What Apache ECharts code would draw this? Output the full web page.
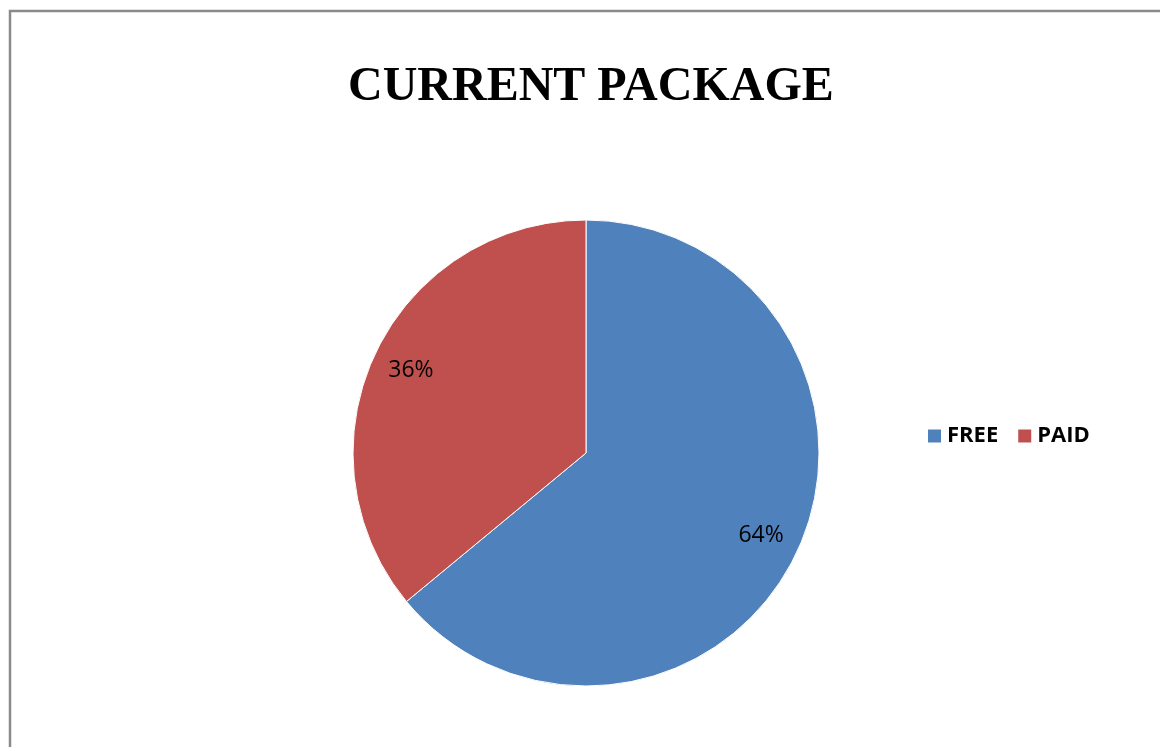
<!DOCTYPE html>
<html>
<head>
<meta charset="utf-8">
<script src="https://cdn.jsdelivr.net/npm/echarts@6/dist/echarts.min.js"></script>
<style>
  html, body { margin: 0; padding: 0; background: #fff; }
  #chart { width: 1160px; height: 747px; }
</style>
</head>
<body>
<div id="chart"></div>
<script>
// Package split among users
const categories = ['FREE', 'PAID'];
const shares = [64, 36];
const colors = ['#4F81BD', '#C0504D'];
const chartTitle = 'CURRENT PACKAGE';

const pieData = categories.map((name, i) => ({
  name: name,
  value: shares[i],
  itemStyle: { color: colors[i] }
}));

const center = [586, 453];
const radius = 233;

const chart = echarts.init(document.getElementById('chart'), null, { renderer: 'canvas' });
chart.setOption({
  backgroundColor: '#fff',
  animation: false,
  graphic: [{
    type: 'rect',
    silent: true,
    shape: { x: 10, y: 11, width: 1200, height: 800 },
    style: { fill: 'none', stroke: '#8a8a8a', lineWidth: 2.5 }
  }],
  title: {
    text: chartTitle,
    left: 343,
    top: 59,
    textStyle: {
      fontFamily: 'Liberation Serif',
      fontWeight: 'bold',
      fontSize: 48,
      color: '#000'
    }
  },
  legend: {
    data: categories,
    orient: 'horizontal',
    left: 926,
    top: 425,
    padding: 0,
    itemWidth: 15,
    itemHeight: 15,
    itemGap: 18,
    icon: 'rect',
    textStyle: {
      fontFamily: 'Open Sans',
      fontWeight: 'bold',
      fontSize: 22,
      color: '#000'
    }
  },
  series: [
    {
      name: 'Package',
      type: 'pie',
      center: center,
      radius: [0, radius],
      startAngle: 90,
      clockwise: true,
      data: pieData,
      itemStyle: { borderColor: '#fff', borderWidth: 1 },
      label: { show: false },
      labelLine: { show: false },
      emphasis: { disabled: true }
    },
    {
      // transparent ring that carries the percentage labels further out
      name: 'Labels',
      type: 'pie',
      center: center,
      radius: [radius * 0.635, radius],
      startAngle: 90,
      clockwise: true,
      silent: true,
      legendHoverLink: false,
      data: categories.map((name, i) => ({ name: name, value: shares[i] })),
      itemStyle: { color: 'rgba(0,0,0,0)' },
      label: {
        show: true,
        position: 'inside',
        formatter: p => p.value + '%',
        fontFamily: 'Open Sans',
        fontSize: 23,
        color: '#000'
      },
      labelLine: { show: false },
      emphasis: { disabled: true }
    }
  ]
});
</script>
</body>
</html>
